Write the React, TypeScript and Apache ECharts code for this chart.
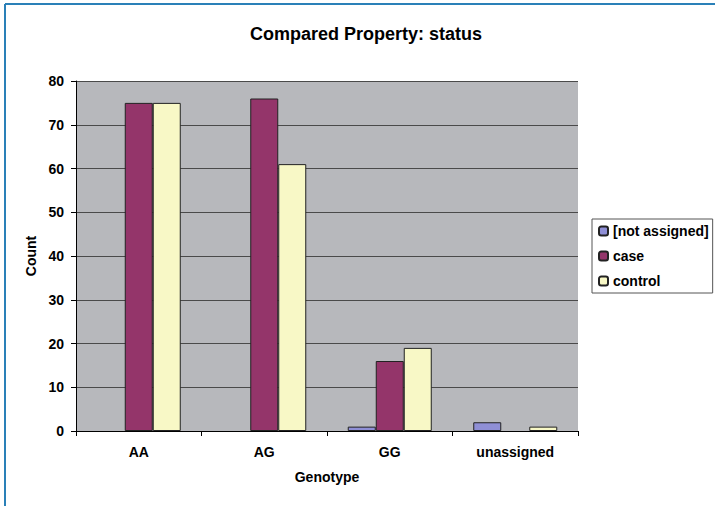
import React, { useEffect, useRef } from "react";
import * as echarts from "echarts";

const categories = ["AA", "AG", "GG", "unassigned"];
const notAssigned = [0, 0, 1, 2];
const caseValues = [75, 76, 16, 0];
const controlValues = [75, 61, 19, 1];
const seriesNames = ["[not assigned]", "case", "control"];
const colors = ["#8f8fd6", "#94356a", "#f8f8c6"];

const FONT = "Arial, 'Liberation Sans', sans-serif";

export default function App() {
  const ref = useRef<HTMLDivElement>(null);
  useEffect(() => {
    document.body.style.margin = "0";
    const chart = echarts.init(ref.current!, null, { renderer: "svg" });
    const data = [notAssigned, caseValues, controlValues];
    chart.setOption({
      animation: false,
      backgroundColor: "#ffffff",
      textStyle: { fontFamily: FONT },
      title: {
        text: "Compared Property: status",
        left: 245,
        top: 20,
        textStyle: { fontSize: 18, fontWeight: "bold", color: "#000", fontFamily: FONT },
      },
      graphic: [
        { type: "line", shape: { x1: 5, y1: 4, x2: 5, y2: 506 }, style: { stroke: "#2a80b8", lineWidth: 2 } },
        { type: "line", shape: { x1: 5, y1: 4, x2: 715, y2: 4 }, style: { stroke: "#2a80b8", lineWidth: 2 } },
      ],
      legend: {
        orient: "vertical",
        left: 592,
        top: 219,
        padding: [5, 4, 5, 6],
        itemWidth: 9,
        itemHeight: 9,
        itemGap: 11,
        borderColor: "#555",
        borderWidth: 1,
        backgroundColor: "#fff",
        textStyle: { fontSize: 14, fontWeight: "bold", color: "#000", fontFamily: FONT, lineHeight: 14 },
        data: seriesNames,
      },
      grid: { left: 76, right: 137, top: 81, bottom: 75, backgroundColor: "#b7b8bc", show: true, borderWidth: 0 },
      xAxis: {
        type: "category",
        data: categories,
        name: "Genotype",
        nameLocation: "middle",
        nameGap: 39,
        nameTextStyle: { fontSize: 14, fontWeight: "bold", color: "#000", fontFamily: FONT },
        axisLine: { lineStyle: { color: "#000", width: 1 } },
        axisTick: { show: true, length: 5, lineStyle: { color: "#000" } },
        axisLabel: { fontSize: 14, fontWeight: "bold", color: "#000", margin: 14, fontFamily: FONT },
      },
      yAxis: {
        type: "value",
        min: 0,
        max: 80,
        interval: 10,
        name: "Count",
        nameLocation: "middle",
        nameGap: 36,
        nameTextStyle: { fontSize: 14, fontWeight: "bold", color: "#000", fontFamily: FONT },
        axisLine: { show: true, lineStyle: { color: "#000", width: 1 } },
        axisTick: { show: true, length: 5, lineStyle: { color: "#000" } },
        axisLabel: { fontSize: 14, fontWeight: "bold", color: "#000", margin: 12, fontFamily: FONT },
        splitLine: { lineStyle: { color: "#4a4a4a", width: 1 } },
      },
      series: seriesNames.map((name, i) => ({
        name,
        type: "bar",
        data: data[i].map((v) => (v === 0 ? null : v)),
        barWidth: 28,
        barGap: "0%",
        itemStyle: { color: colors[i], borderColor: "#222", borderWidth: 1 },
      })),
    });
    return () => chart.dispose();
  }, []);
  return <div ref={ref} style={{ width: 715, height: 506 }} />;
}
